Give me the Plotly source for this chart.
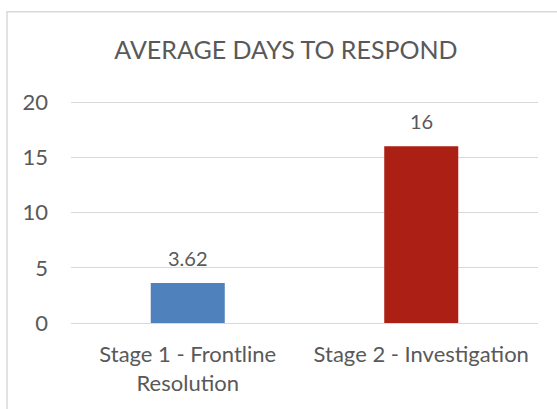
import plotly.graph_objects as go

categories = ["Stage 1 - Frontline<br>Resolution", "Stage 2 - Investigation"]
values = [3.62, 16]
labels = ["3.62", "16"]
colors = ["#4F81BD", "#AB1F14"]
title_text = "AVERAGE DAYS TO RESPOND"
y_ticks = [0, 5, 10, 15, 20]

W, H = 557, 409
FONT = "Lato, Carlito, 'Open Sans', sans-serif"
TXT = "#595959"

fig = go.Figure(go.Bar(
    x=categories, y=values,
    marker=dict(color=colors, line=dict(width=0)),
    cliponaxis=False, width=0.317,
))

annotations = [
    dict(x=c, y=v, text=t, xref="x", yref="y", showarrow=False,
         yanchor="middle", yshift=25,
         font=dict(family=FONT, size=20, color=TXT))
    for c, v, t in zip(categories, values, labels)
]

fig.update_layout(
    width=W, height=H,
    margin=dict(l=71, r=19, t=99.5, b=85.7),
    paper_bgcolor="white", plot_bgcolor="white",
    showlegend=False,
    title=dict(text=title_text, x=286 / W, xanchor="center", y=1 - 50 / H, yanchor="middle",
               font=dict(family=FONT, size=25, color=TXT)),
    font=dict(family=FONT, color=TXT),
    xaxis=dict(showgrid=False, zeroline=False, showline=False, ticks="",
               tickfont=dict(family=FONT, size=22, color=TXT), ticklabelstandoff=16),
    yaxis=dict(range=[0, 20.2], tickvals=y_ticks, showgrid=True, gridcolor="#D9D9D9", gridwidth=1,
               zeroline=True, zerolinecolor="#D9D9D9", zerolinewidth=1, showline=False, ticks="",
               tickfont=dict(family=FONT, size=22, color=TXT), ticklabelstandoff=22),
    annotations=annotations,
    shapes=[dict(type="rect", xref="paper", yref="paper",
                 x0=-64 / (W - 90), x1=1.2, y0=-0.5, y1=1 + (99.5 - 11) / (H - 185.2),
                 line=dict(color="#D9D9D9", width=1.5), fillcolor="rgba(0,0,0,0)", layer="below")],
)

fig.write_html("out.html")
